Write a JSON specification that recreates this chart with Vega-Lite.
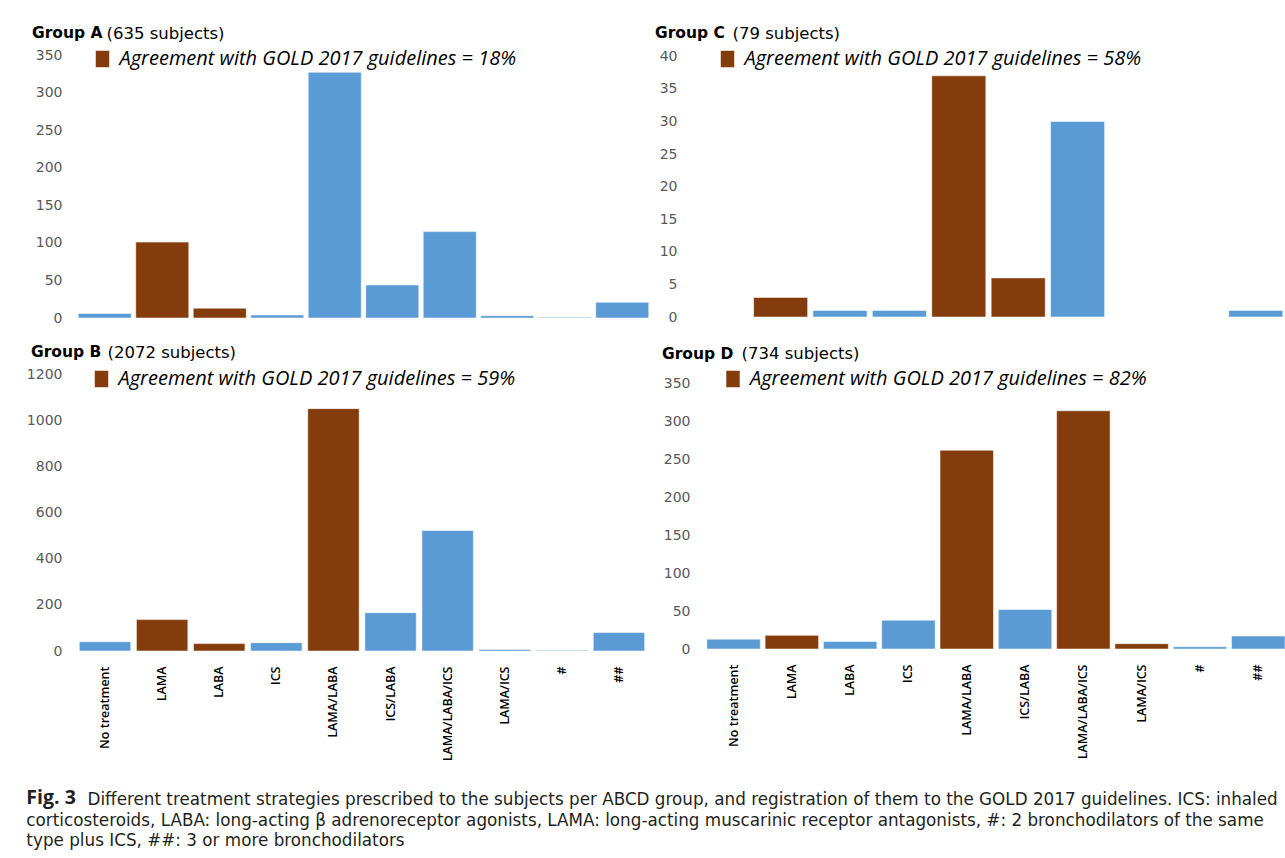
{
  "$schema": "https://vega.github.io/schema/vega-lite/v6.json",
  "background": "white",
  "padding": {"left": 26, "top": 25, "right": 0, "bottom": 0},
  "config": {
    "view": {"stroke": null},
    "axis": {"grid": false, "domain": false, "ticks": false},
    "axisY": {"labelFont": "DejaVu Sans", "labelFontSize": 14, "labelColor": "#595959", "labelPadding": 15, "format": "d", "titleAngle": 0, "titleAlign": "left", "titleBaseline": "alphabetic", "titleFont": "DejaVu Sans", "titleFontSize": 16.5, "titleFontWeight": "normal", "titleColor": "#000000", "titleY": -16.7},
    "axisX": {"labelFont": "Open Sans", "labelFontSize": 12.5, "labelFontWeight": 600, "labelColor": "#000000", "labelAngle": -90, "labelAlign": "right", "labelBaseline": "middle", "labelPadding": 15},
    "legend": {"orient": "none", "padding": 0, "symbolType": "M-0.82,-1H0.82V1H-0.82Z", "symbolSize": 289, "symbolStrokeWidth": 0, "labelFont": "Open Sans", "labelFontStyle": "italic", "labelFontSize": 20, "labelColor": "#000000", "labelOffset": 7, "labelLimit": 0},
    "title": {"font": "DejaVu Sans", "fontSize": 15.5, "fontWeight": "bold", "color": "#000000", "anchor": "start", "frame": "group", "offset": -16.3},
    "bar": {"stroke": "#ffffff", "strokeWidth": 1, "strokeOpacity": 0.5}
  },
  "data": {
    "values": [
      {"group": "A", "treatment": "No treatment", "count": 6, "agree": "no"},
      {"group": "A", "treatment": "LAMA", "count": 101, "agree": "yes"},
      {"group": "A", "treatment": "LABA", "count": 13, "agree": "yes"},
      {"group": "A", "treatment": "ICS", "count": 4, "agree": "no"},
      {"group": "A", "treatment": "LAMA/LABA", "count": 327, "agree": "no"},
      {"group": "A", "treatment": "ICS/LABA", "count": 44, "agree": "no"},
      {"group": "A", "treatment": "LAMA/LABA/ICS", "count": 115, "agree": "no"},
      {"group": "A", "treatment": "LAMA/ICS", "count": 3, "agree": "no"},
      {"group": "A", "treatment": "#", "count": 1, "agree": "no"},
      {"group": "A", "treatment": "##", "count": 21, "agree": "no"},
      {"group": "C", "treatment": "No treatment", "count": 0, "agree": "no"},
      {"group": "C", "treatment": "LAMA", "count": 3, "agree": "yes"},
      {"group": "C", "treatment": "LABA", "count": 1, "agree": "no"},
      {"group": "C", "treatment": "ICS", "count": 1, "agree": "no"},
      {"group": "C", "treatment": "LAMA/LABA", "count": 37, "agree": "yes"},
      {"group": "C", "treatment": "ICS/LABA", "count": 6, "agree": "yes"},
      {"group": "C", "treatment": "LAMA/LABA/ICS", "count": 30, "agree": "no"},
      {"group": "C", "treatment": "LAMA/ICS", "count": 0, "agree": "no"},
      {"group": "C", "treatment": "#", "count": 0, "agree": "no"},
      {"group": "C", "treatment": "##", "count": 1, "agree": "no"},
      {"group": "B", "treatment": "No treatment", "count": 40, "agree": "no"},
      {"group": "B", "treatment": "LAMA", "count": 136, "agree": "yes"},
      {"group": "B", "treatment": "LABA", "count": 32, "agree": "yes"},
      {"group": "B", "treatment": "ICS", "count": 36, "agree": "no"},
      {"group": "B", "treatment": "LAMA/LABA", "count": 1050, "agree": "yes"},
      {"group": "B", "treatment": "ICS/LABA", "count": 166, "agree": "no"},
      {"group": "B", "treatment": "LAMA/LABA/ICS", "count": 522, "agree": "no"},
      {"group": "B", "treatment": "LAMA/ICS", "count": 7, "agree": "no"},
      {"group": "B", "treatment": "#", "count": 3, "agree": "no"},
      {"group": "B", "treatment": "##", "count": 80, "agree": "no"},
      {"group": "D", "treatment": "No treatment", "count": 13, "agree": "no"},
      {"group": "D", "treatment": "LAMA", "count": 18, "agree": "yes"},
      {"group": "D", "treatment": "LABA", "count": 10, "agree": "no"},
      {"group": "D", "treatment": "ICS", "count": 38, "agree": "no"},
      {"group": "D", "treatment": "LAMA/LABA", "count": 262, "agree": "yes"},
      {"group": "D", "treatment": "ICS/LABA", "count": 52, "agree": "no"},
      {"group": "D", "treatment": "LAMA/LABA/ICS", "count": 314, "agree": "yes"},
      {"group": "D", "treatment": "LAMA/ICS", "count": 7, "agree": "yes"},
      {"group": "D", "treatment": "#", "count": 3, "agree": "no"},
      {"group": "D", "treatment": "##", "count": 17, "agree": "no"}
    ]
  },
  "title": {
    "text": "Fig. 3",
    "subtitle": [
      "corticosteroids, LABA: long-acting β adrenoreceptor agonists, LAMA: long-acting muscarinic receptor antagonists, #: 2 bronchodilators of the same",
      "type plus ICS, ##: 3 or more bronchodilators"
    ],
    "orient": "bottom",
    "anchor": "start",
    "frame": "bounds",
    "offset": -18.9,
    "font": "Open Sans",
    "fontSize": 19.5,
    "fontWeight": "bold",
    "color": "#231f20",
    "subtitleFont": "DejaVu Sans",
    "subtitleFontSize": 16.8,
    "subtitleColor": "#231f20",
    "subtitleLineHeight": 20.5,
    "subtitlePadding": 4.2
  },
  "columns": 2,
  "bounds": "flush",
  "spacing": {"row": 56, "column": 42},
  "resolve": {"scale": {"x": "independent", "y": "independent", "color": "independent"}, "legend": {"color": "independent"}},
  "concat": [
    {
      "width": 573,
      "height": 263,
      "title": {"text": "Group A", "dx": -45},
      "transform": [{"filter": "datum.group === 'A'"}],
      "mark": {"type": "bar"},
      "encoding": {
        "x": {"field": "treatment", "type": "nominal", "sort": ["No treatment", "LAMA", "LABA", "ICS", "LAMA/LABA", "ICS/LABA", "LAMA/LABA/ICS", "LAMA/ICS", "#", "##"], "scale": {"paddingInner": 0.078, "paddingOuter": 0.022}, "axis": null},
        "y": {"field": "count", "type": "quantitative", "scale": {"domain": [0, 350], "nice": false}, "axis": {"values": [0, 50, 100, 150, 200, 250, 300, 350], "title": "(635 subjects)", "titleX": 29}},
        "color": {"field": "agree", "type": "nominal", "scale": {"domain": ["yes", "no"], "range": ["#843C0C", "#5B9BD5"]}, "legend": {"values": ["yes"], "title": null, "labelExpr": "'Agreement with GOLD 2017 guidelines = 18%'", "legendX": 15.5, "legendY": -6}}
      }
    },
    {
      "width": 593,
      "height": 262,
      "title": {"text": "Group C", "dx": -37},
      "transform": [{"filter": "datum.group === 'C'"}],
      "mark": {"type": "bar"},
      "encoding": {
        "x": {"field": "treatment", "type": "nominal", "sort": ["No treatment", "LAMA", "LABA", "ICS", "LAMA/LABA", "ICS/LABA", "LAMA/LABA/ICS", "LAMA/ICS", "#", "##"], "scale": {"paddingInner": 0.09, "paddingOuter": 0.037}, "axis": null},
        "y": {"field": "count", "type": "quantitative", "scale": {"domain": [0, 40.2], "nice": false}, "axis": {"values": [0, 5, 10, 15, 20, 25, 30, 35, 40], "title": "(79 subjects)", "titleX": 40}},
        "color": {"field": "agree", "type": "nominal", "scale": {"domain": ["yes", "no"], "range": ["#843C0C", "#5B9BD5"]}, "legend": {"values": ["yes"], "title": null, "labelExpr": "'Agreement with GOLD 2017 guidelines = 58%'", "legendX": 25.5, "legendY": -6}}
      }
    },
    {
      "width": 570,
      "height": 277,
      "title": {"text": "Group B", "dx": -46},
      "transform": [{"filter": "datum.group === 'B'"}],
      "mark": {"type": "bar"},
      "encoding": {
        "x": {"field": "treatment", "type": "nominal", "sort": ["No treatment", "LAMA", "LABA", "ICS", "LAMA/LABA", "ICS/LABA", "LAMA/LABA/ICS", "LAMA/ICS", "#", "##"], "scale": {"paddingInner": 0.1, "paddingOuter": 0.041}, "axis": {"title": "Different treatment strategies prescribed to the subjects per ABCD group, and registration of them to the GOLD 2017 guidelines. ICS: inhaled", "titleX": 10, "titleY": 153, "titleAngle": 0, "titleAlign": "left", "titleBaseline": "alphabetic", "titleFont": "DejaVu Sans", "titleFontSize": 16.8, "titleFontWeight": "normal", "titleColor": "#231f20", "titleLimit": 2000}},
        "y": {"field": "count", "type": "quantitative", "scale": {"domain": [0, 1200], "nice": false}, "axis": {"values": [0, 200, 400, 600, 800, 1000, 1200], "title": "(2072 subjects)", "titleX": 30, "titleY": -16.8}},
        "color": {"field": "agree", "type": "nominal", "scale": {"domain": ["yes", "no"], "range": ["#843C0C", "#5B9BD5"]}, "legend": {"values": ["yes"], "title": null, "labelExpr": "'Agreement with GOLD 2017 guidelines = 59%'", "legendX": 14.5, "legendY": -5}}
      }
    },
    {
      "width": 593,
      "height": 275,
      "title": {"text": "Group D", "dx": -30},
      "transform": [{"filter": "datum.group === 'D'"}],
      "mark": {"type": "bar"},
      "encoding": {
        "x": {"field": "treatment", "type": "nominal", "title": null, "sort": ["No treatment", "LAMA", "LABA", "ICS", "LAMA/LABA", "ICS/LABA", "LAMA/LABA/ICS", "LAMA/ICS", "#", "##"], "scale": {"paddingInner": 0.083, "paddingOuter": 0.127, "align": 1}},
        "y": {"field": "count", "type": "quantitative", "scale": {"domain": [0, 362.5], "nice": false}, "axis": {"values": [0, 50, 100, 150, 200, 250, 300, 350], "labelPadding": 2, "title": "(734 subjects)", "titleX": 49, "titleY": -15.3}},
        "color": {"field": "agree", "type": "nominal", "scale": {"domain": ["yes", "no"], "range": ["#843C0C", "#5B9BD5"]}, "legend": {"values": ["yes"], "title": null, "labelExpr": "'Agreement with GOLD 2017 guidelines = 82%'", "legendX": 31, "legendY": -5}}
      }
    }
  ]
}
